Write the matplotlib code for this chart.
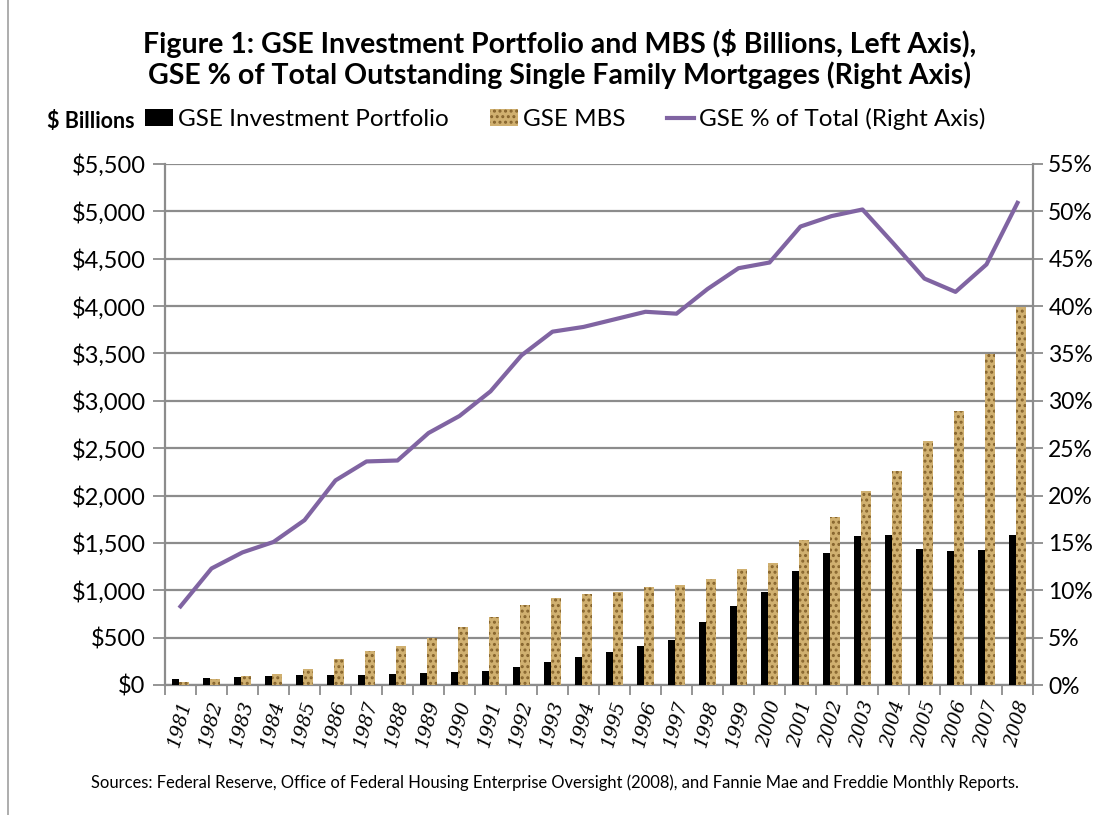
import matplotlib
matplotlib.use("Agg")
import matplotlib.pyplot as plt
from matplotlib.lines import Line2D
from matplotlib.patches import Patch
import numpy as np

years = [str(y) for y in range(1981, 2009)]
# $ billions
portfolio = [63, 74, 84, 95, 102, 102, 102, 113, 123, 134, 144, 187, 239, 292,
             348, 412, 475, 662, 837, 985, 1201, 1398, 1574, 1588, 1440, 1419, 1430, 1588]
mbs = [32, 63, 95, 116, 169, 274, 359, 412, 496, 612, 716, 844, 915, 961,
       982, 1031, 1056, 1116, 1225, 1285, 1528, 1770, 2052, 2263, 2573, 2896, 3494, 3994]
# GSE % of total outstanding single family mortgages
pct = [8.3, 12.3, 14.0, 15.1, 17.4, 21.6, 23.6, 23.7, 26.6, 28.4, 31.0, 34.8, 37.3, 37.8,
       38.6, 39.4, 39.2, 41.8, 44.0, 44.6, 48.4, 49.5, 50.2, 46.6, 42.9, 41.5, 44.4, 50.9]

FONT = "Lato"
GRID = "#8c8c8c"
PURPLE = "#8064a2"
TAN = "#d0b070"
HATCH_COL = "#85632c"
plt.rcParams["font.family"] = FONT
plt.rcParams["hatch.linewidth"] = 1.4

fig = plt.figure(figsize=(11.12, 8.15), dpi=100)
ax = fig.add_axes([165 / 1112, 1 - 685 / 815, (1033 - 165) / 1112, (685 - 164) / 815])

x = np.arange(len(years))
ax.bar(x - 0.28, portfolio, width=0.235, align="edge", color="black", zorder=3)
ax.bar(x - 0.05, mbs, width=0.32, align="edge", color=TAN, edgecolor=HATCH_COL,
       hatch="...", linewidth=0, zorder=3)

ax.set_xlim(-0.5, len(years) - 0.5)
ax.set_ylim(0, 5500)
ax.set_yticks(np.arange(0, 5501, 500))
ax.set_yticklabels(["${:,}".format(v) for v in range(0, 5501, 500)], fontsize=17)
ax.yaxis.grid(True, color=GRID, linewidth=1.6, zorder=0)
ax.set_axisbelow(True)

ax.set_xticks(x)
ax.set_xticklabels(years, rotation=75, fontsize=13.5, family="DejaVu Serif",
                   style="italic", ha="center", va="top")
ax.set_xticks(np.arange(-0.5, len(years)), minor=True)
ax.tick_params(axis="x", which="major", length=0, pad=10)
ax.tick_params(axis="x", which="minor", length=7, color=GRID, width=1.3)
ax.tick_params(axis="y", length=9, color=GRID, width=1.3, pad=5)

for s in ["top", "right"]:
    ax.spines[s].set_visible(False)
for s in ["left", "bottom"]:
    ax.spines[s].set_color(GRID)
    ax.spines[s].set_linewidth(1.6)

ax2 = ax.twinx()
ax2.plot(x, pct, color=PURPLE, linewidth=3, zorder=4)
ax2.set_ylim(0, 55)
ax2.set_yticks(np.arange(0, 56, 5))
ax2.set_yticklabels(["{}%".format(v) for v in range(0, 56, 5)], fontsize=16.5)
ax2.tick_params(axis="y", length=7, color=GRID, width=1.3, pad=4)
for s in ["top", "left", "bottom"]:
    ax2.spines[s].set_visible(False)
ax2.spines["right"].set_color(GRID)
ax2.spines["right"].set_linewidth(1.6)

fig.text(0.503, 1 - 44 / 815, "Figure 1: GSE Investment Portfolio and MBS ($ Billions, Left Axis),",
         ha="center", va="center", fontsize=20.5, fontweight="bold")
fig.text(0.503, 1 - 75 / 815, "GSE % of Total Outstanding Single Family Mortgages (Right Axis)",
         ha="center", va="center", fontsize=20.5, fontweight="bold")

fig.text(47 / 1112, 1 - 121 / 815, "$ Billions", ha="left", va="center",
         fontsize=15.5, fontweight="bold")
handles = [Patch(facecolor="black"),
           Patch(facecolor=TAN, edgecolor=HATCH_COL, hatch="...", linewidth=0),
           Line2D([], [], color=PURPLE, linewidth=3)]
labels = ["GSE Investment Portfolio", "GSE MBS", "GSE % of Total (Right Axis)"]
fig.legend(handles, labels, loc="center left", bbox_to_anchor=(145 / 1112, 1 - 119 / 815),
           ncol=3, frameon=False, fontsize=17.5, handlelength=1.15, handleheight=0.7,
           handletextpad=0.2, columnspacing=1.7, borderpad=0, borderaxespad=0)

fig.text(555 / 1112, 1 - 783 / 815,
         "Sources: Federal Reserve, Office of Federal Housing Enterprise Oversight (2008), "
         "and Fannie Mae and Freddie Monthly Reports.",
         ha="center", va="center", fontsize=11.9)

fig.add_artist(Line2D([8 / 1112, 8 / 1112], [0, 1], color="#a0a0a0", linewidth=1.2))

fig.savefig("out.png", dpi=100)
